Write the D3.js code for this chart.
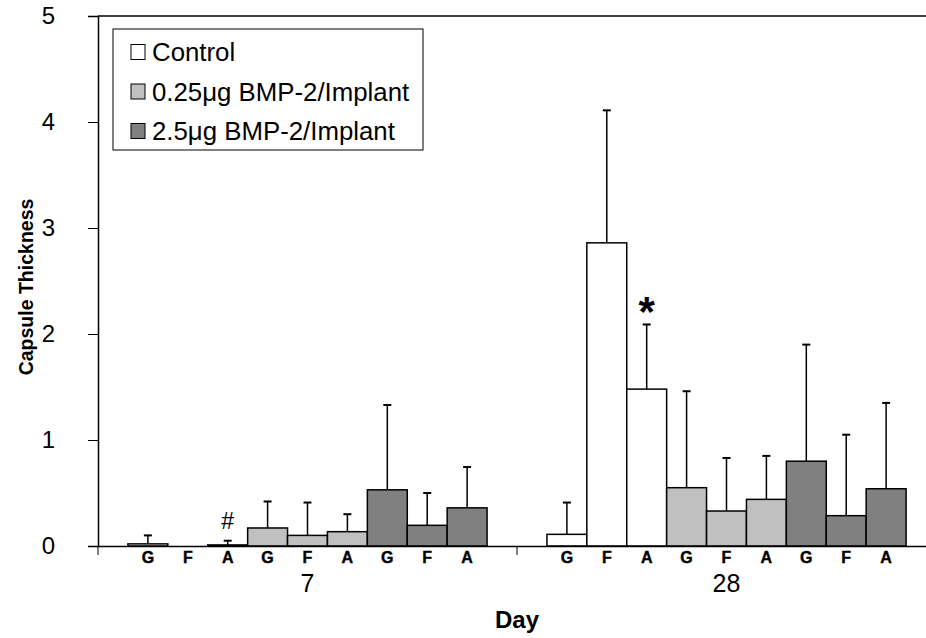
<!DOCTYPE html>
<html>
<head>
<meta charset="utf-8">
<script src="https://cdn.jsdelivr.net/npm/d3@7"></script>
<style>
  html, body { margin: 0; padding: 0; background: #fff; }
  svg { display: block; font-family: "Liberation Sans", Arial, sans-serif; }
</style>
</head>
<body>
<svg id="chart" width="926" height="638"></svg>
<script>
// ---- Data ----
const days = ["7", "28"];
const sites = ["G", "F", "A"];
const seriesNames = ["Control", "0.25\u03bcg BMP-2/Implant", "2.5\u03bcg BMP-2/Implant"];
const seriesColors = ["#FFFFFF", "#C0C0C0", "#808080"];
// means per day (G, F, A)
const controlDay7 = [0.02, 0.0, 0.01];
const controlDay28 = [0.11, 2.86, 1.48];
const lowDay7 = [0.17, 0.10, 0.135];
const lowDay28 = [0.55, 0.33, 0.44];
const highDay7 = [0.53, 0.195, 0.36];
const highDay28 = [0.80, 0.286, 0.54];
// standard deviations (upper error bars)
const controlSdDay7 = [0.08, 0.0, 0.04];
const controlSdDay28 = [0.30, 1.25, 0.61];
const lowSdDay7 = [0.25, 0.31, 0.165];
const lowSdDay28 = [0.91, 0.50, 0.41];
const highSdDay7 = [0.80, 0.305, 0.385];
const highSdDay28 = [1.10, 0.764, 0.81];
const yTicks = [0, 1, 2, 3, 4, 5];
// annotations: [day, series index, site index, symbol]
const annotations = [["7", 0, 2, "#"], ["28", 0, 2, "*"]];

const meansBy = {
  "7": [controlDay7, lowDay7, highDay7],
  "28": [controlDay28, lowDay28, highDay28]
};
const sdBy = {
  "7": [controlSdDay7, lowSdDay7, highSdDay7],
  "28": [controlSdDay28, lowSdDay28, highSdDay28]
};

const rows = [];
days.forEach(d => {
  seriesNames.forEach((s, si) => {
    sites.forEach((site, ki) => {
      rows.push({day: d, si, site, key: si + "-" + site, mean: meansBy[d][si][ki], sd: sdBy[d][si][ki]});
    });
  });
});

// ---- Layout ----
const svg = d3.select("#chart");
const mLeft = 98, mRight = 936, mTop = 16, mBottom = 546;

const x0 = d3.scaleBand().domain(days).range([mLeft, mRight]).paddingInner(0).paddingOuter(0);
const innerKeys = [];
seriesNames.forEach((s, si) => sites.forEach(site => innerKeys.push(si + "-" + site)));
const x1 = d3.scaleBand().domain(innerKeys).range([0, x0.bandwidth()]).paddingInner(0).paddingOuter(0.75);
const y = d3.scaleLinear().domain([0, 5]).range([mBottom, mTop]);

const font = '"Liberation Sans", Arial, sans-serif';

// Top frame line
svg.append("line").attr("x1", mLeft).attr("x2", 926).attr("y1", y(5)).attr("y2", y(5))
  .attr("stroke", "#000").attr("stroke-width", 1.5);

// Y axis
const yAxis = d3.axisLeft(y).tickValues(yTicks).tickSize(10).tickPadding(33).tickFormat(d3.format("d"));
const gy = svg.append("g").attr("transform", `translate(${mLeft},0)`).call(yAxis);
gy.select(".domain").attr("stroke", "#000").attr("stroke-width", 1.5);
gy.selectAll(".tick line").attr("stroke", "#000").attr("stroke-width", 1);
gy.selectAll(".tick text").attr("font-size", 24).attr("font-family", font).attr("fill", "#000");

// Bars
const barG = svg.append("g");
rows.forEach(r => {
  const bx = x0(r.day) + x1(r.key);
  const bw = x1.bandwidth();
  if (r.mean > 0) {
    barG.append("rect")
      .attr("x", bx).attr("y", y(r.mean))
      .attr("width", bw).attr("height", y(0) - y(r.mean))
      .attr("fill", seriesColors[r.si]).attr("stroke", "#000").attr("stroke-width", 1.5);
  }
  if (r.sd > 0) {
    const cx = bx + bw / 2;
    barG.append("line").attr("x1", cx).attr("x2", cx)
      .attr("y1", y(r.mean)).attr("y2", y(r.mean + r.sd))
      .attr("stroke", "#000").attr("stroke-width", 1.5);
    barG.append("line").attr("x1", cx - 4).attr("x2", cx + 4)
      .attr("y1", y(r.mean + r.sd)).attr("y2", y(r.mean + r.sd))
      .attr("stroke", "#000").attr("stroke-width", 2);
  }
});

// X axis baseline with category ticks
const xAxis = d3.axisBottom(x0).tickSize(0).tickFormat("");
const gx = svg.append("g").attr("transform", `translate(0,${mBottom})`).call(xAxis);
gx.select(".domain").attr("stroke", "#000").attr("stroke-width", 1.5);
days.map(d => x0(d)).forEach(bx => {
  svg.append("line").attr("x1", bx).attr("x2", bx).attr("y1", mBottom).attr("y2", mBottom + 9)
    .attr("stroke", "#000").attr("stroke-width", 1);
});

// Site labels (G, F, A)
rows.forEach(r => {
  svg.append("text")
    .attr("x", x0(r.day) + x1(r.key) + x1.bandwidth() / 2)
    .attr("y", 563)
    .attr("text-anchor", "middle")
    .attr("font-family", font).attr("font-weight", "bold").attr("font-size", 16)
    .attr("stroke", "#000").attr("stroke-width", 0.4)
    .text(r.site);
});

// Day labels
days.forEach(d => {
  svg.append("text")
    .attr("x", x0(d) + x0.bandwidth() / 2)
    .attr("y", 592)
    .attr("text-anchor", "middle")
    .attr("font-family", font).attr("font-size", 25)
    .text(d);
});

// Annotations
annotations.forEach(([d, si, ki, sym]) => {
  const key = si + "-" + sites[ki];
  const r = rows.find(rr => rr.day === d && rr.key === key);
  const cx = x0(d) + x1(key) + x1.bandwidth() / 2;
  const topVal = r.mean + r.sd;
  if (sym === "#") {
    svg.append("text").attr("x", cx).attr("y", y(topVal) - 12)
      .attr("text-anchor", "middle").attr("font-family", font).attr("font-size", 23).text(sym);
  } else {
    svg.append("text").attr("x", cx).attr("y", y(topVal) + 2)
      .attr("text-anchor", "middle").attr("font-family", font).attr("font-weight", "bold")
      .attr("font-size", 42).text(sym);
  }
});

// Axis titles
svg.append("text")
  .attr("x", (mLeft + mRight) / 2).attr("y", 628)
  .attr("text-anchor", "middle")
  .attr("font-family", font).attr("font-weight", "bold").attr("font-size", 24)
  .text("Day");

svg.append("text")
  .attr("transform", `translate(33,${(mTop + mBottom) / 2 + 6}) rotate(-90)`)
  .attr("text-anchor", "middle")
  .attr("font-family", font).attr("font-weight", "bold").attr("font-size", 19.5)
  .text("Capsule Thickness");

// Legend
const lg = svg.append("g");
lg.append("rect").attr("x", 113).attr("y", 29).attr("width", 310).attr("height", 121)
  .attr("fill", "#fff").attr("stroke", "#000").attr("stroke-width", 1);
seriesNames.forEach((s, i) => {
  const cy = 52 + i * 39.5;
  lg.append("rect").attr("x", 131).attr("y", cy - 7.5).attr("width", 14).attr("height", 15)
    .attr("fill", seriesColors[i]).attr("stroke", "#000").attr("stroke-width", 1);
  lg.append("text").attr("x", 152).attr("y", cy + 9)
    .attr("font-family", font).attr("font-size", 25.8).text(s);
});
</script>
</body>
</html>
